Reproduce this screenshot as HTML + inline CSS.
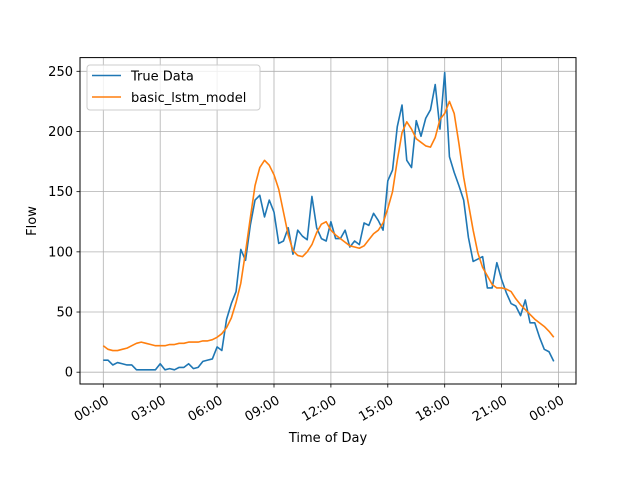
<!DOCTYPE html>
<html><head><meta charset="utf-8"><style>
body{margin:0;background:#fff}
svg{display:block;font-family:"DejaVu Sans","Liberation Sans",sans-serif}
</style></head><body>
<svg id="chart" width="640" height="480">
<g id="grid"></g>
<g id="series"></g>
<rect x="80" y="57.6" width="496" height="326.4" fill="none" stroke="#000" stroke-width="1"/>
<g id="ticks"></g>
<text x="328" y="442" font-size="13" text-anchor="middle">Time of Day</text>
<text transform="translate(36,221) rotate(-90)" font-size="13" text-anchor="middle">Flow</text>
<g>
<rect x="87" y="65" width="173" height="45" rx="3" fill="#fff" fill-opacity="0.8" stroke="#ccc"/>
<line x1="92" y1="75.5" x2="121" y2="75.5" stroke="#1f77b4" stroke-width="1.6"/>
<text x="131" y="80.5" font-size="13">True Data</text>
<line x1="92" y1="97" x2="121" y2="97" stroke="#ff7f0e" stroke-width="1.6"/>
<text x="131" y="102" font-size="13">basic_lstm_model</text>
</g>
</svg>
<script>
const trueData=[10,10,6,8,7,6,6,2,2,2,2,2,7,2,3,2,4,4,7,3,4,9,10,11,21,18,44,57,67,102,93,122,143,147,129,143,133,107,109,120,98,118,113,110,146,120,111,109,125,111,111,118,104,109,106,124,122,132,126,118,159,168,204,222,176,170,209,196,211,218,239,202,249,179,166,155,143,112,92,94,96,70,70,91,77,66,57,55,47,60,41,41,29,19,17,9];
const lstmData=[22,19,18,18,19,20,22,24,25,24,23,22,22,22,23,23,24,24,25,25,25,26,26,27,29,32,37,45,58,74,100,128,155,170,176,172,164,152,133,114,101,97,96,100,106,116,123,125,118,114,111,108,105,104,103,105,110,115,118,124,136,150,176,199,208,202,194,191,188,187,195,210,215,225,215,190,162,140,118,99,87,80,73,70,70,69,67,61,56,52,48,44,41,38,34,29];
const yTicks=[0,50,100,150,200,250];
const xTickLabels=["00:00","03:00","06:00","09:00","12:00","15:00","18:00","21:00","00:00"];
const xTickHours=[0,3,6,9,12,15,18,21,24];
const NS="http://www.w3.org/2000/svg";
function xH(h){return 103.3+h*(455.2/24);}
function xI(i){return xH(i*0.25);}
function yV(v){return 372.2-v*(300.9/250);}
const grid=document.getElementById('grid'),ticks=document.getElementById('ticks'),series=document.getElementById('series');
function mk(tag,attrs,parent){const e=document.createElementNS(NS,tag);for(const k in attrs)e.setAttribute(k,attrs[k]);parent.appendChild(e);return e;}
yTicks.forEach(v=>{
 const y=yV(v);
 const g=mk('line',{x1:80,x2:576,y1:y,y2:y,stroke:'#b0b0b0','stroke-width':0.8},grid);
 
 
 const t=mk('line',{x1:76.5,x2:80,y1:y,y2:y,stroke:'#000','stroke-width':0.8},ticks);
 
 
 const l=mk('text',{x:73,y:y+4.5,'font-size':13,'text-anchor':'end'},ticks);
 l.textContent=v;
 
 
});
xTickHours.forEach((h,i)=>{
 const x=xH(h);
 const g=mk('line',{x1:x,x2:x,y1:57.6,y2:384,stroke:'#b0b0b0','stroke-width':0.8},grid);
 
 
 const t=mk('line',{x1:x,x2:x,y1:384,y2:387.5,stroke:'#000','stroke-width':0.8},ticks);
 
 
 const l=mk('text',{transform:`translate(${x+2},${395}) rotate(-30)`,'font-size':13,'text-anchor':'end',y:9},ticks);
 l.textContent=xTickLabels[i];
 
 
});
function line(data,color,name){
 const p=mk('polyline',{points:data.map((v,i)=>xI(i).toFixed(2)+','+yV(v).toFixed(2)).join(' '),fill:'none',stroke:color,'stroke-width':1.6,'stroke-linejoin':'round'},series);
 
 
}
line(trueData,'#1f77b4','true-data-line');
line(lstmData,'#ff7f0e','lstm-prediction-line');
</script>
</body></html>
